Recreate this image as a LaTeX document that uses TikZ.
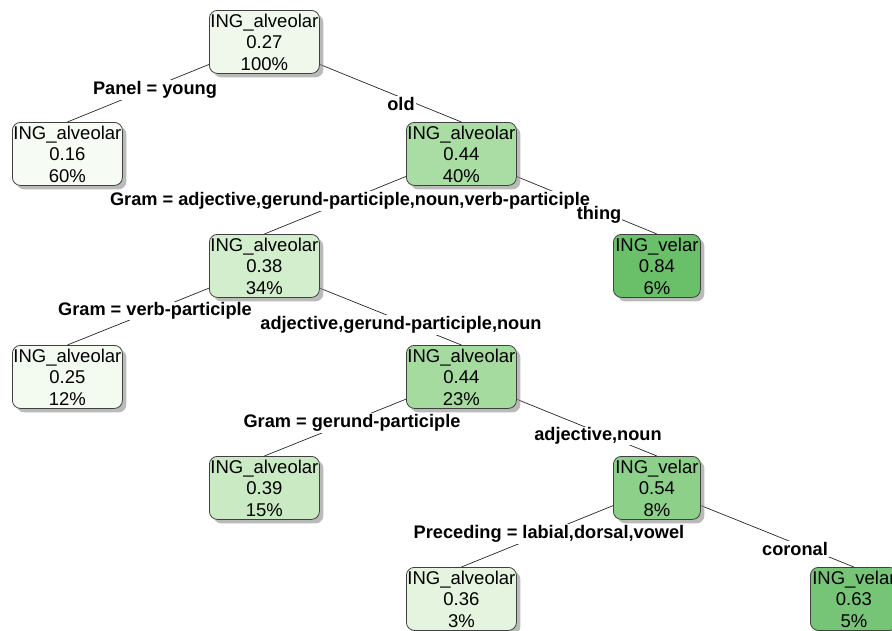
\documentclass[tikz,border=0pt]{standalone}
\usepackage{fontspec}
\setmainfont{Liberation Sans}
\usetikzlibrary{shadows}
\pgfdeclarelayer{background}
\pgfsetlayers{background,main}
\definecolor{cA}{HTML}{F0F8EC}
\definecolor{cB}{HTML}{F6FBF4}
\definecolor{cC}{HTML}{A9DDA4}
\definecolor{cD}{HTML}{D3EECD}
\definecolor{cE}{HTML}{6ABF69}
\definecolor{cF}{HTML}{F3FAF0}
\definecolor{cG}{HTML}{A6DBA0}
\definecolor{cH}{HTML}{C9EAC2}
\definecolor{cI}{HTML}{8DD08A}
\definecolor{cJ}{HTML}{E4F4DE}
\definecolor{cK}{HTML}{76C476}
\tikzset{
  nd/.style={draw=black!75, line width=0.8pt, rounded corners=8pt, anchor=north west,
    minimum width=110pt, minimum height=63pt, inner sep=0pt, align=center,
    font=\fontsize{18.5}{21.5}\selectfont,
    drop shadow={shadow xshift=4pt, shadow yshift=-4pt, fill=black!45, opacity=0.6}},
  ndv/.style={nd, minimum width=87pt},
  lbl/.style={fill=white, inner sep=1pt, font=\fontsize{18.2}{20}\selectfont\bfseries},
  br/.style={draw=black!85, line width=0.7pt}
}
\begin{document}
\begin{tikzpicture}[x=1pt,y=-1pt]
\useasboundingbox (0,0) rectangle (892,630);
\clip (0,0) rectangle (892,630);
\node[nd, fill=cA] (n1) at (209,10) {ING\_alveolar\\0.27\\100\%};
\node[nd, fill=cB] (n2) at (12,122) {ING\_alveolar\\0.16\\60\%};
\node[nd, fill=cC] (n3) at (406,122) {ING\_alveolar\\0.44\\40\%};
\node[nd, fill=cD] (n6) at (209,234) {ING\_alveolar\\0.38\\34\%};
\node[ndv, fill=cE] (n7) at (613,234) {ING\_velar\\0.84\\6\%};
\node[nd, fill=cF] (n12) at (12,345) {ING\_alveolar\\0.25\\12\%};
\node[nd, fill=cG] (n13) at (406,345) {ING\_alveolar\\0.44\\23\%};
\node[nd, fill=cH] (n26) at (209,456) {ING\_alveolar\\0.39\\15\%};
\node[ndv, fill=cI] (n27) at (613,456) {ING\_velar\\0.54\\8\%};
\node[nd, fill=cJ] (n54) at (406,567) {ING\_alveolar\\0.36\\3\%};
\node[ndv, fill=cK] (n55) at (810,567) {ING\_velar\\0.63\\5\%};
\begin{pgfonlayer}{background}
\draw[br] (n1.center) -- (n2.north);
\draw[br] (n1.center) -- (n3.north);
\draw[br] (n3.center) -- (n6.north);
\draw[br] (n3.center) -- (n7.north);
\draw[br] (n6.center) -- (n12.north);
\draw[br] (n6.center) -- (n13.north);
\draw[br] (n13.center) -- (n26.north);
\draw[br] (n13.center) -- (n27.north);
\draw[br] (n27.center) -- (n54.north);
\draw[br] (n27.center) -- (n55.north);
\end{pgfonlayer}
\node[lbl] (l1) at (155,90) {Panel = young};
\node[lbl] (l2) at (401,104) {old};
\node[lbl] (l3) at (350,201) {Gram = adjective,gerund-participle,noun,verb-participle};
\node[lbl] (l4) at (599,215) {thing};
\node[lbl] (l5) at (155,311) {Gram = verb-participle};
\node[lbl] (l6) at (401,325) {adjective,gerund-participle,noun};
\node[lbl] (l7) at (352,423) {Gram = gerund-participle};
\node[lbl] (l8) at (598,436) {adjective,noun};
\node[lbl] (l9) at (549,534) {Preceding = labial,dorsal,vowel};
\node[lbl] (l10) at (795,549) {coronal};
\end{tikzpicture}
\end{document}
